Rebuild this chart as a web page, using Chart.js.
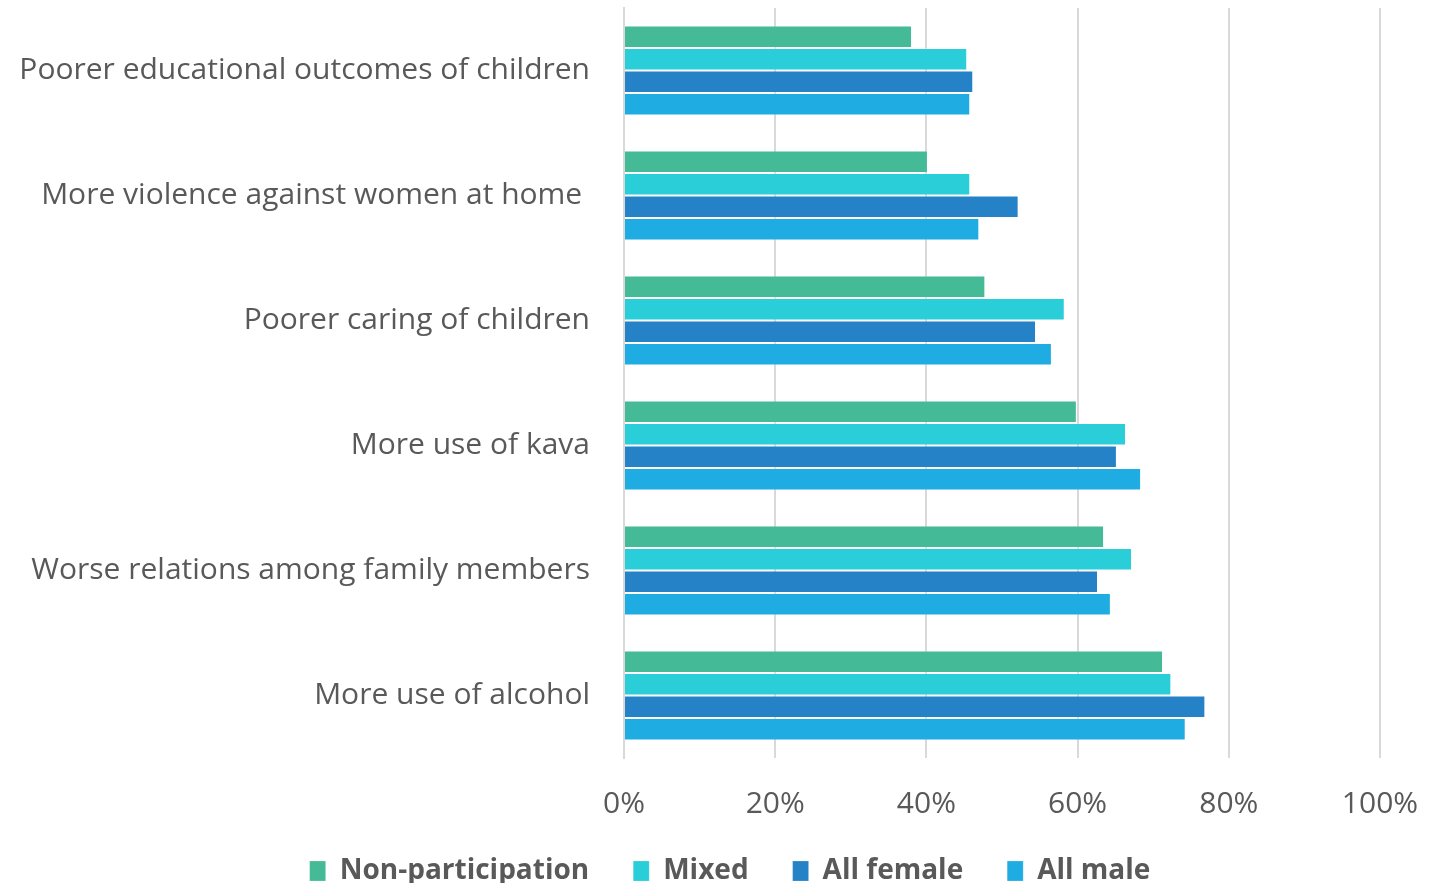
<!DOCTYPE html>
<html>
<head>
<meta charset="utf-8">
<script src="https://cdn.jsdelivr.net/npm/chart.js@4"></script>
<style>
  html, body { margin: 0; padding: 0; background: #fff; overflow: hidden; }
  #wrap { position: relative; width: 1437px; height: 932px; }
</style>
</head>
<body>
<div id="wrap"><canvas id="chart"></canvas></div>
<script>
const categories = [
  "Poorer educational outcomes of children",
  "More violence against women at home ",
  "Poorer caring of children",
  "More use of kava",
  "Worse relations among family members",
  "More use of alcohol",
];

const seriesNames = ["Non-participation", "Mixed", "All female", "All male"];
const seriesColors = ["#44BA96", "#29CED8", "#2682C7", "#1EACE3"];

const nonParticipation = [0.381, 0.402, 0.478, 0.599, 0.635, 0.713];
const mixed = [0.454, 0.458, 0.583, 0.664, 0.672, 0.724];
const allFemale = [0.462, 0.522, 0.545, 0.652, 0.627, 0.769];
const allMale = [0.458, 0.470, 0.566, 0.684, 0.644, 0.743];

const xTicks = [0, 0.2, 0.4, 0.6, 0.8, 1];

const seriesValues = [nonParticipation, mixed, allFemale, allMale];
const textColor = "#595959";
const fontFamily = "'Open Sans', 'DejaVu Sans', sans-serif";

// nudge the legend row to where the original sits
const legendShift = {
  id: "legendShift",
  afterLayout(chart) {
    const lg = chart.legend;
    if (!lg) return;
    lg.left += 33;
    lg.right += 33;
    lg.top -= 37;
    lg.bottom -= 37;
  },
};

function drawChart() {
  new Chart(document.getElementById("chart"), {
    type: "bar",
    data: {
      labels: categories,
      datasets: seriesNames.map((name, i) => ({
        label: name,
        data: seriesValues[i],
        backgroundColor: seriesColors[i],
        borderColor: "rgba(255,255,255,0.2)",
        borderWidth: 1,
        barPercentage: 1,
        categoryPercentage: 0.72,
      })),
    },
    plugins: [legendShift],
    options: {
      indexAxis: "y",
      responsive: true,
      maintainAspectRatio: false,
      animation: false,
      layout: { padding: { left: 14, right: 57, top: 8, bottom: 0 } },
      plugins: {
        tooltip: { enabled: false },
        legend: {
          position: "bottom",
          labels: {
            color: textColor,
            font: { family: fontFamily, size: 28, weight: "bold" },
            boxWidth: 16,
            boxHeight: 20,
            padding: 44,
          },
        },
      },
      scales: {
        x: {
          min: 0,
          max: 1,
          afterBuildTicks: (axis) => {
            axis.ticks = xTicks.map((v) => ({ value: v }));
          },
          afterFit: (axis) => {
            axis.paddingLeft = 0;
            axis.paddingRight = 0;
          },
          ticks: {
            color: textColor,
            font: { family: fontFamily, size: 30 },
            padding: 28,
            callback: (v) => Math.round(v * 100) + "%",
          },
          grid: { color: "#D9D9D9", lineWidth: 2, drawTicks: false },
          border: { display: false },
        },
        y: {
          afterFit: (axis) => {
            axis.width = 610;
            axis.paddingTop = 0;
            axis.paddingBottom = 0;
          },
          ticks: {
            color: textColor,
            font: { family: fontFamily, size: 30 },
            padding: 26,
          },
          grid: { display: false },
          border: { color: "#D9D9D9", width: 2 },
        },
      },
    },
  });
}

Promise.all([
  document.fonts.load("30px 'Open Sans'"),
  document.fonts.load("bold 28px 'Open Sans'"),
]).then(drawChart, drawChart);
</script>
</body>
</html>
